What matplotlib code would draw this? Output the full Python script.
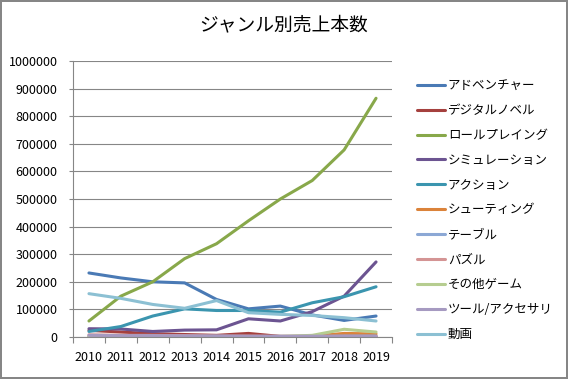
import matplotlib
matplotlib.use("Agg")
import matplotlib.pyplot as plt
from matplotlib.ticker import FixedLocator, NullFormatter
import numpy as np

plt.rcParams["font.family"] = ["Noto Sans CJK JP", "DejaVu Sans"]

years = ["2010", "2011", "2012", "2013", "2014", "2015", "2016", "2017", "2018", "2019"]

adventure = [232000, 214000, 200000, 196000, 136000, 102000, 112000, 80000, 60000, 76000]
digital_novel = [24000, 18000, 12000, 9000, 6000, 13000, 2000, 1000, 2000, 2000]
rpg = [58000, 148000, 200000, 284000, 338000, 421000, 500000, 567000, 678000, 865000]
simulation = [30000, 29000, 20000, 25000, 26000, 66000, 58000, 92000, 148000, 272000]
action = [20000, 38000, 76000, 102000, 96000, 96000, 90000, 124000, 146000, 182000]
shooting = [2000, 2000, 3000, 3000, 2000, 2000, 2000, 3000, 13000, 11000]
table = [3000, 2000, 2000, 2000, 2000, 1000, 1000, 1000, 3000, 3000]
puzzle = [8000, 6000, 6000, 5000, 3000, 3000, 2000, 2000, 2000, 2000]
other_game = [0, 1000, 1000, 1000, 1000, 1000, 2000, 6000, 28000, 18000]
tools = [6000, 5000, 5000, 4000, 4000, 3000, 3000, 3000, 3000, 3000]
video = [157000, 140000, 118000, 104000, 132000, 88000, 82000, 78000, 70000, 58000]

series = [
    ("アドベンチャー", adventure, "#4a7ab5"),
    ("デジタルノベル", digital_novel, "#a5403e"),
    ("ロールプレイング", rpg, "#88a84a"),
    ("シミュレーション", simulation, "#6c5491"),
    ("アクション", action, "#3b95af"),
    ("シューティング", shooting, "#db833a"),
    ("テーブル", table, "#8ca8d5"),
    ("パズル", puzzle, "#d49494"),
    ("その他ゲーム", other_game, "#b6cd90"),
    ("ツール/アクセサリ", tools, "#a69ac1"),
    ("動画", video, "#8cc0d3"),
]

fig = plt.figure(figsize=(5.68, 3.79), dpi=100)
fig.patch.set_edgecolor("#868686")
fig.patch.set_linewidth(1.5)
ax = fig.add_axes([73 / 568, 1 - 337 / 379, (392 - 73) / 568, (337 - 61) / 379])

x = np.arange(len(years))
for name, vals, col in series:
    ax.plot(x, vals, color=col, lw=2.2, label=name, solid_capstyle="round")

ax.set_xlim(-0.5, len(years) - 0.5)
ax.set_ylim(0, 1000000)
ax.set_yticks(np.arange(0, 1000001, 100000))
ax.set_yticklabels([str(v) for v in range(0, 1000001, 100000)])
ax.grid(axis="y", color="#868686", lw=0.8)
ax.set_axisbelow(True)

ax.set_xticks(x)
ax.set_xticklabels(years)
ax.xaxis.set_minor_locator(FixedLocator(np.arange(-0.5, len(years), 1.0)))
ax.xaxis.set_minor_formatter(NullFormatter())
ax.tick_params(axis="x", which="major", length=0, pad=10, labelsize=9)
ax.tick_params(axis="x", which="minor", length=4, color="#868686", width=0.8)
ax.tick_params(axis="y", length=3, color="#868686", width=0.8, pad=8, labelsize=9)

for s in ("top", "right"):
    ax.spines[s].set_visible(False)
for s in ("left", "bottom"):
    ax.spines[s].set_color("#868686")
    ax.spines[s].set_linewidth(0.8)

fig.legend(loc="center left", bbox_to_anchor=(406 / 568, 1 - 210 / 379),
           frameon=False, fontsize=9, handlelength=2.2, handletextpad=0.25,
           labelspacing=0.95)

fig.text(0.5, 1 - 25 / 379, "ジャンル別売上本数", ha="center", va="center", fontsize=13.5)

fig.savefig("out.png", dpi=100)
